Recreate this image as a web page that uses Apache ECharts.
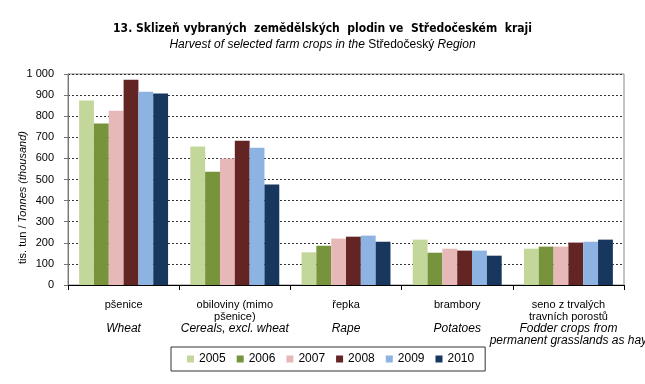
<!DOCTYPE html>
<html><head><meta charset="utf-8">
<script src="https://cdn.jsdelivr.net/npm/echarts@6/dist/echarts.min.js"></script>
<style>html,body{margin:0;padding:0;background:#fff}#c{width:645px;height:384px}</style>
</head><body><div id="c"></div>
<script>
const catCz1 = ['pšenice', 'obiloviny (mimo', 'řepka', 'brambory', 'seno z trvalých'];
const catCz2 = [' ', 'pšenice)', ' ', ' ', 'travních porostů'];
const catEn1 = ['Wheat', 'Cereals, excl. wheat', 'Rape', 'Potatoes', 'Fodder crops from'];
const catEn2 = [' ', ' ', ' ', ' ', 'permanent grasslands as hay'];
const years = ['2005', '2006', '2007', '2008', '2009', '2010'];
const v2005 = [875, 656, 155, 215, 172];
const v2006 = [765, 537, 186, 153, 182];
const v2007 = [826, 599, 220, 172, 182];
const v2008 = [973, 684, 229, 163, 201];
const v2009 = [916, 651, 234, 163, 205];
const v2010 = [907, 476, 205, 139, 215];
const yTicks = [0, 100, 200, 300, 400, 500, 600, 700, 800, 900, 1000];
const colors = ['#c4d79b', '#77933c', '#e6b9b8', '#632523', '#8db3e2', '#17375e'];
const values = [v2005, v2006, v2007, v2008, v2009, v2010];

const chart = echarts.init(document.getElementById('c'));
const F = 'Liberation Sans';
chart.setOption({
  animation: false,
  textStyle: { fontFamily: F },
  title: [{
    text: '13. Sklizeň vybraných  zemědělských  plodin ve  Středočeském  kraji',
    left: 'center', top: 18,
    textStyle: { fontFamily: "'DejaVu Sans Condensed', 'Liberation Sans', sans-serif", fontWeight: 'bold', fontSize: 12, color: '#000' }
  }, {
    text: '{i|Harvest of selected farm crops in the }{n|Středočeský}{i| Region}',
    left: 'center', top: 34,
    textStyle: { fontWeight: 'normal', rich: {
      i: { fontFamily: F, fontStyle: 'italic', fontWeight: 'normal', fontSize: 12, color: '#000' },
      n: { fontFamily: F, fontWeight: 'normal', fontSize: 12, color: '#000' }
    } }
  }],
  legend: {
    data: years, left: 171, top: 347,
    itemWidth: 7, itemHeight: 7, itemGap: 11,
    icon: 'rect',
    padding: [6, 11, 6, 16],
    borderColor: '#333', borderWidth: 1,
    textStyle: { fontFamily: F, fontSize: 12, color: '#000' }
  },
  grid: { left: 68, right: 21, top: 74, bottom: 99, show: true, borderColor: '#888', borderWidth: 1,
          containLabel: false, outerBoundsMode: 'none' },
  xAxis: {
    type: 'category',
    data: catCz1,
    axisLine: { lineStyle: { color: '#000', width: 1 } },
    axisTick: { show: true, length: 5, lineStyle: { color: '#000' } },
    axisLabel: {
      interval: 0, margin: 14,
      formatter: (v, i) => `{cz|${catCz1[i]}}\n{cz|${catCz2[i]}}\n{en|${catEn1[i]}}\n{en|${catEn2[i]}}`,
      rich: {
        cz: { fontFamily: F, fontSize: 11, color: '#000', lineHeight: 12 },
        en: { fontFamily: F, fontSize: 12, fontStyle: 'italic', color: '#000', lineHeight: 12 }
      }
    }
  },
  yAxis: {
    type: 'value', min: 0, max: 1000, interval: 100,
    name: '{n|tis. tun / }{i|Tonnes (thousand)}',
    nameLocation: 'middle', nameGap: 40, nameRotate: 90, nameMoveOverlap: false,
    nameTextStyle: { padding: [0, 36, 0, 0], rich: {
      n: { fontFamily: F, fontSize: 11, color: '#000' },
      i: { fontFamily: F, fontSize: 11, fontStyle: 'italic', color: '#000' }
    } },
    axisLine: { show: true, lineStyle: { color: '#777' } },
    axisTick: { show: true, length: 4, inside: false, lineStyle: { color: '#777' } },
    axisLabel: {
      fontFamily: F, fontSize: 11, color: '#000', margin: 14,
      formatter: v => yTicks.includes(v) ? (v >= 1000 ? '1 000' : String(v)) : ''
    },
    splitLine: { lineStyle: { color: '#333', type: [2, 2], width: 1 } }
  },
  series: years.map((y, k) => ({
    name: y, type: 'bar', data: values[k],
    itemStyle: { color: colors[k] },
    barGap: '0%', barCategoryGap: '20%'
  }))
});
</script></body></html>
